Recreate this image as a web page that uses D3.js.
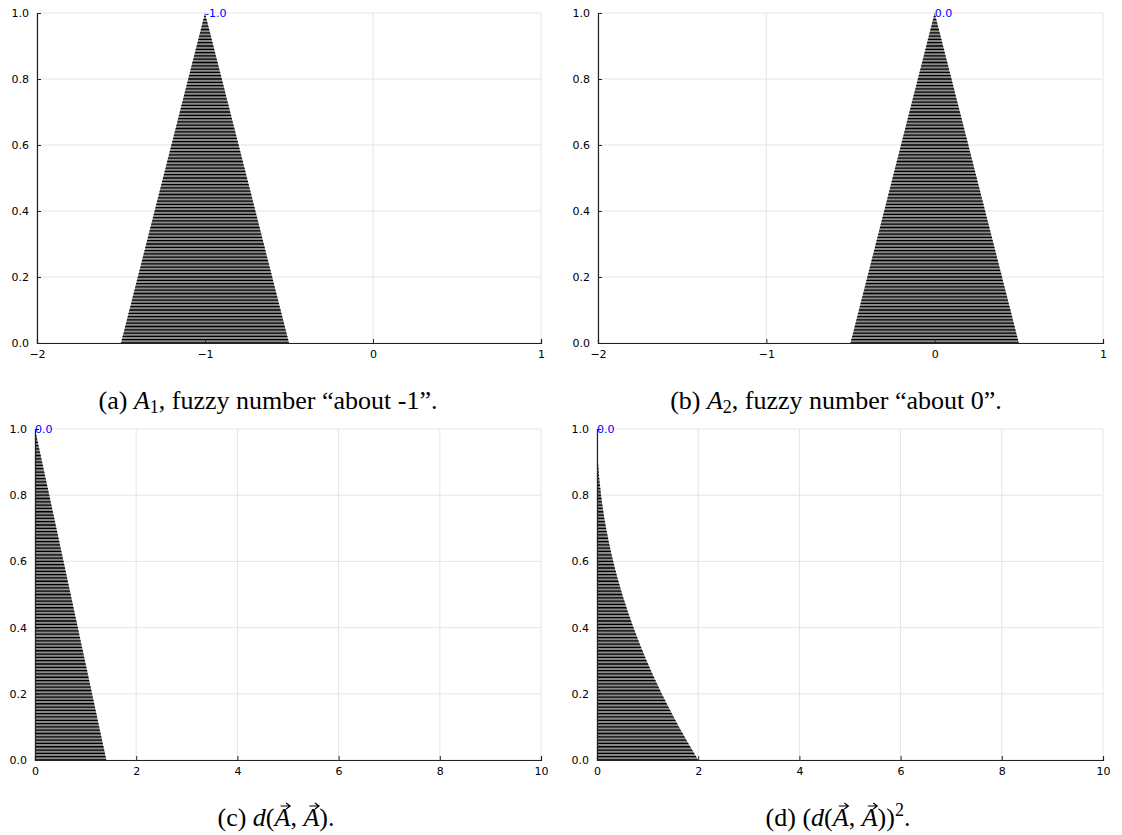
<!DOCTYPE html>
<html>
<head>
<meta charset="utf-8">
<script src="https://cdn.jsdelivr.net/npm/d3@7"></script>
<style>
  html, body { margin: 0; padding: 0; background: #fff; }
  svg { display: block; }
  .tick-label { font-family: "DejaVu Sans", sans-serif; font-size: 11px; fill: #000; }
  .caption { font-family: "Liberation Serif", "DejaVu Serif", serif; font-size: 26px; fill: #000; }
  .peak { font-family: "DejaVu Sans", sans-serif; font-size: 11px; fill: #0000ff; }
</style>
</head>
<body>
<svg id="chart" width="1122" height="835"></svg>
<script>
// Membership levels (alpha) shown on every panel's y axis
const yTicks = [0, 0.2, 0.4, 0.6, 0.8, 1.0];
const xTicksTop = [-2, -1, 0, 1];
const xTicksBottom = [0, 2, 4, 6, 8, 10];

// Alpha-cut endpoints [lo, hi] at the listed alpha levels
const cutsA1 = [
  { alpha: 0, lo: -1.5, hi: -0.5 },
  { alpha: 1, lo: -1.0, hi: -1.0 }
];
const cutsA2 = [
  { alpha: 0, lo: -0.5, hi: 0.5 },
  { alpha: 1, lo: 0.0, hi: 0.0 }
];
const cutsDist = [
  { alpha: 0, lo: 0, hi: 1.41 },
  { alpha: 1, lo: 0, hi: 0 }
];
const cutsDistSq = [
  { alpha: 0.0, lo: 0, hi: 2.0 },
  { alpha: 0.1, lo: 0, hi: 1.62 },
  { alpha: 0.2, lo: 0, hi: 1.28 },
  { alpha: 0.3, lo: 0, hi: 0.98 },
  { alpha: 0.4, lo: 0, hi: 0.72 },
  { alpha: 0.5, lo: 0, hi: 0.5 },
  { alpha: 0.6, lo: 0, hi: 0.32 },
  { alpha: 0.7, lo: 0, hi: 0.18 },
  { alpha: 0.8, lo: 0, hi: 0.08 },
  { alpha: 0.9, lo: 0, hi: 0.02 },
  { alpha: 1.0, lo: 0, hi: 0.0 }
];

// Peak (core) annotations
const peakA1 = { x: -1, alpha: 1, text: "-1.0" };
const peakA2 = { x: 0, alpha: 1, text: "0.0" };
const peakDist = { x: 0, alpha: 1, text: "0.0" };
const peakDistSq = { x: 0, alpha: 1, text: "0.0" };

// Caption pieces: [text, style] where style is "", "it" (italic), "vec" (italic with arrow),
// "sub" (subscript) or "sup" (superscript)
const captionA = [["(a) ", ""], ["A", "it"], ["1", "sub"], [", fuzzy number \u201Cabout -1\u201D.", ""]];
const captionB = [["(b) ", ""], ["A", "it"], ["2", "sub"], [", fuzzy number \u201Cabout 0\u201D.", ""]];
const captionC = [["(c) ", ""], ["d", "it"], ["(", ""], ["A", "vec"], [", ", ""], ["A", "vec"], [").", ""]];
const captionD = [["(d) (", ""], ["d", "it"], ["(", ""], ["A", "vec"], [", ", ""], ["A", "vec"], ["))", ""], ["2", "sup"], [".", ""]];

const panels = [
  { id: "a", box: [37, 541, 13, 343], domain: [-2, 1], ticks: xTicksTop, cuts: cutsA1, peak: peakA1,
    curve: d3.curveLinear, caption: captionA, capPos: { x: 268, y: 409 } },
  { id: "b", box: [598, 1103, 13, 343], domain: [-2, 1], ticks: xTicksTop, cuts: cutsA2, peak: peakA2,
    curve: d3.curveLinear, caption: captionB, capPos: { x: 836, y: 409 } },
  { id: "c", box: [35, 541, 429, 760], domain: [0, 10], ticks: xTicksBottom, cuts: cutsDist, peak: peakDist,
    curve: d3.curveLinear, caption: captionC, capPos: { x: 276, y: 826 } },
  { id: "d", box: [597, 1103, 429, 760], domain: [0, 10], ticks: xTicksBottom, cuts: cutsDistSq, peak: peakDistSq,
    curve: d3.curveMonotoneY, caption: captionD, capPos: { x: 838, y: 826 } }
];

const svg = d3.select("#chart");
const fmtX = d => (d < 0 ? "\u2212" + Math.abs(d) : String(d));

panels.forEach(p => {
  const [x0, x1, y0, y1] = p.box;
  const x = d3.scaleLinear().domain(p.domain).range([x0, x1]);
  const y = d3.scaleLinear().domain([0, 1]).range([y1, y0]);
  const g = svg.append("g");

  // grid
  g.selectAll(".gx").data(p.ticks).join("line")
    .attr("x1", d => x(d)).attr("x2", d => x(d))
    .attr("y1", y0).attr("y2", y1)
    .attr("stroke", "#e5e5e5").attr("stroke-width", 1);
  g.selectAll(".gy").data(yTicks).join("line")
    .attr("x1", x0).attr("x2", x1)
    .attr("y1", d => y(d)).attr("y2", d => y(d))
    .attr("stroke", "#e5e5e5").attr("stroke-width", 1);

  // fuzzy set region, hatched by horizontal alpha-cut lines
  const area = d3.area()
    .y(d => y(d.alpha))
    .x0(d => x(d.lo))
    .x1(d => x(d.hi))
    .curve(p.curve);
  const clipId = "clip-" + p.id;
  g.append("clipPath").attr("id", clipId)
    .append("path").attr("d", area(p.cuts));
  g.append("path").attr("d", area(p.cuts)).attr("fill", "#8a8a8a");
  const levels = d3.range(0, 101).map(i => i / 100);
  g.append("g").attr("clip-path", `url(#${clipId})`)
    .selectAll("line").data(levels).join("line")
    .attr("x1", x0).attr("x2", x1)
    .attr("y1", d => y(d)).attr("y2", d => y(d))
    .attr("stroke", "#000").attr("stroke-width", 1.3);

  // axes
  const xAxis = d3.axisBottom(x).tickValues(p.ticks).tickSize(-4).tickPadding(7).tickFormat(fmtX);
  const yAxis = d3.axisLeft(y).tickValues(yTicks).tickSize(-4).tickPadding(8).tickFormat(d3.format(".1f"));
  const gx = g.append("g").attr("transform", `translate(0,${y1})`).call(xAxis);
  const gy = g.append("g").attr("transform", `translate(${x0},0)`).call(yAxis);
  [gx, gy].forEach(ax => {
    ax.select(".domain").attr("stroke", "#222").attr("stroke-width", 1.2);
    ax.selectAll(".tick line").attr("stroke", "#222");
    ax.selectAll(".tick text").attr("class", "tick-label").attr("font-size", null).attr("font-family", null);
  });

  // peak annotation
  g.append("text").attr("class", "peak")
    .attr("x", x(p.peak.x)).attr("y", y(p.peak.alpha))
    .attr("dy", "0.35em")
    .text(p.peak.text);

  // caption
  const cap = g.append("text").attr("class", "caption")
    .attr("x", p.capPos.x).attr("y", p.capPos.y).attr("text-anchor", "middle");
  let offset = 0, shift = 0;
  const vecIdx = [];
  p.caption.forEach(([txt, style]) => {
    const t = cap.append("tspan").text(txt);
    let dy = -shift;
    shift = 0;
    if (style === "it" || style === "vec") t.attr("font-style", "italic");
    if (style === "sub") { t.attr("font-size", "18px"); shift = 4; }
    if (style === "sup") { t.attr("font-size", "18px"); shift = -10; }
    dy += shift;
    if (dy) t.attr("dy", dy);
    if (style === "vec") vecIdx.push(offset);
    offset += txt.length;
  });
  // vector arrows over the italic A's
  const node = cap.node();
  vecIdx.forEach(i => {
    const r = node.getExtentOfChar(i);
    const ax0 = r.x + r.width * 0.38, ax1 = r.x + r.width * 0.98;
    const ay = p.capPos.y - 20;
    g.append("path")
      .attr("d", `M${ax0},${ay}H${ax1}M${ax1 - 4},${ay - 3}L${ax1},${ay}L${ax1 - 4},${ay + 3}`)
      .attr("fill", "none").attr("stroke", "#000").attr("stroke-width", 1.2);
  });
});
</script>
</body>
</html>
